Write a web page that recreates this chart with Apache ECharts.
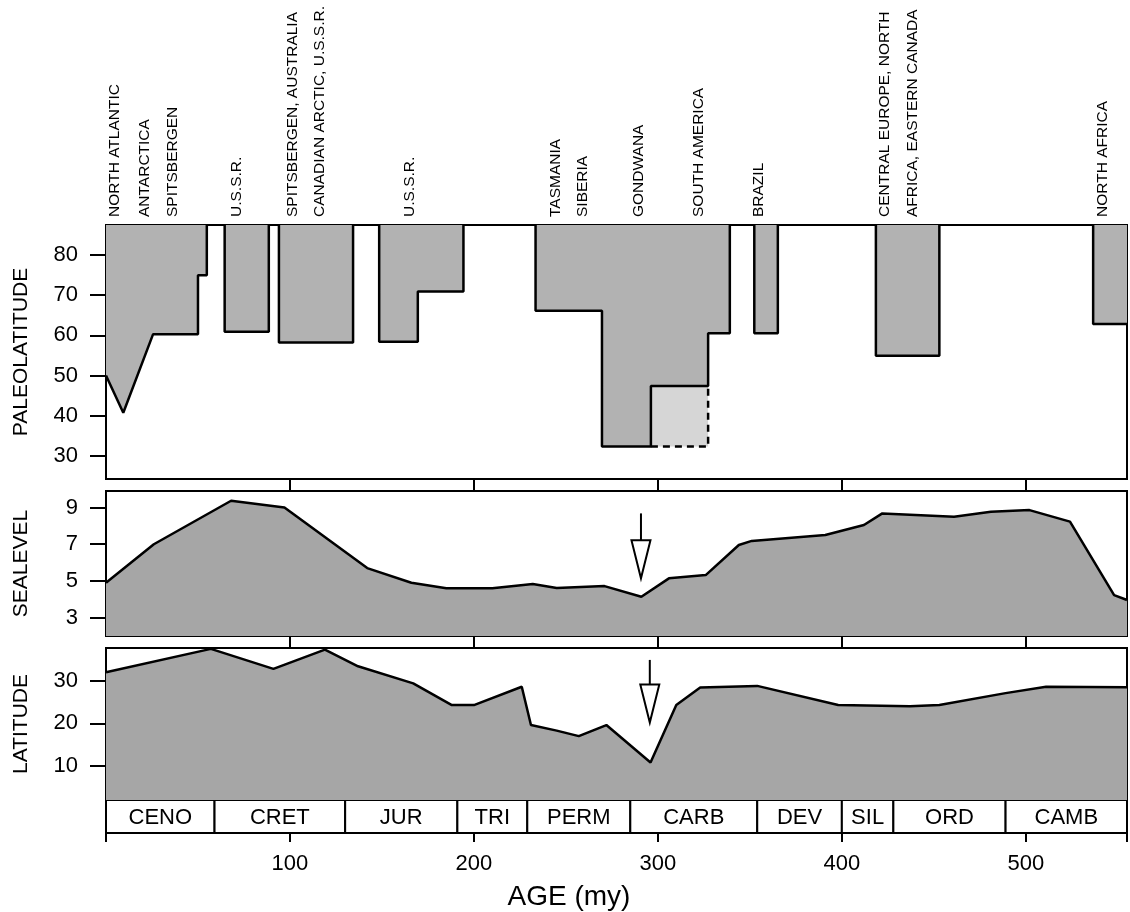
<!DOCTYPE html>
<html>
<head>
<meta charset="utf-8">
<title>Paleolatitude of glacial deposits, sea level and latitude vs age</title>
<script src="https://cdn.jsdelivr.net/npm/echarts@6/dist/echarts.min.js"></script>
<style>
  html, body { margin: 0; padding: 0; background: #fff; }
  #chart { width: 1130px; height: 912px; }
</style>
</head>
<body>
<div id="chart"></div>
<script>
const FONT = '"Liberation Sans", Arial, Helvetica, sans-serif';

// age axis (my)
const ageMin = 0;
const ageMax = 555;
const ageTicks = [100, 200, 300, 400, 500];

// top panel: paleolatitude of glacial deposits (each block drawn down from the panel top)
const paleoTop = 87.5;
const paleoTicks = [30, 40, 50, 60, 70, 80];
const blockCeno = [[0, 50], [9.4, 40.7], [25.6, 60.3], [50, 60.3], [50, 75], [54.8, 75], [54.8, paleoTop]];
const blockUssr1 = [[64.5, paleoTop], [64.5, 60.9], [88.5, 60.9], [88.5, paleoTop]];
const blockSpits = [[94, paleoTop], [94, 58.2], [134.3, 58.2], [134.3, paleoTop]];
const blockUssr2 = [[148.5, paleoTop], [148.5, 58.4], [169.5, 58.4], [169.5, 70.9], [194.3, 70.9], [194.3, paleoTop]];
const blockGondwana = [[233.5, paleoTop], [233.5, 66.1], [269.6, 66.1], [269.6, 32.3], [296.2, 32.3], [296.2, 47.4],
  [327.3, 47.4], [327.3, 60.5], [339.1, 60.5], [339.1, paleoTop]];
const blockBrazil = [[352.4, paleoTop], [352.4, 60.5], [365.2, 60.5], [365.2, paleoTop]];
const blockEurope = [[418.5, paleoTop], [418.5, 54.9], [453, 54.9], [453, paleoTop]];
const blockAfrica = [[536.6, paleoTop], [536.6, 62.8], [555, 62.8]];
// uncertain part (dashed outline)
const blockDashed = [[296.2, 32.3], [327.3, 32.3], [327.3, 47.4]];
const dashedTop = 47.4;

// site labels above the top panel
const siteAges = [4.9, 21.2, 36.3, 71, 101.5, 116.3, 165.2, 244.2, 258.9, 289.5, 322.2, 354.9, 423.4, 438.6, 541.6];
const siteNames = ['NORTH ATLANTIC', 'ANTARCTICA', 'SPITSBERGEN', 'U.S.S.R.', 'SPITSBERGEN, AUSTRALIA',
  'CANADIAN ARCTIC, U.S.S.R.', 'U.S.S.R.', 'TASMANIA', 'SIBERIA', 'GONDWANA', 'SOUTH AMERICA', 'BRAZIL',
  'CENTRAL EUROPE, NORTH', 'AFRICA, EASTERN CANADA', 'NORTH AFRICA'];

// middle panel: sea level
const seaTicks = [3, 5, 7, 9];
const seaAge = [0, 26, 68, 97, 142, 166, 185, 210, 232, 245, 271, 291, 306, 326, 344, 351, 391, 412, 422, 461, 481, 502, 524, 548, 555];
const seaVal = [4.9, 7.0, 9.37, 9.0, 5.7, 4.9, 4.6, 4.6, 4.83, 4.62, 4.72, 4.14, 5.14, 5.32, 6.96, 7.18, 7.5, 8.05, 8.68, 8.5, 8.77, 8.86, 8.23, 4.23, 3.96];
const seaArrow = [290.8, 8.68, 5.14];

// bottom panel: latitude
const latTicks = [10, 20, 30];
const latAge = [0, 57, 91, 119, 137, 167, 188, 200, 226, 231, 245, 257, 272, 296, 310, 323, 354, 398, 437, 453, 489, 511, 555];
const latVal = [32.0, 37.5, 32.8, 37.3, 33.4, 29.4, 24.3, 24.3, 28.6, 19.6, 18.3, 17.0, 19.6, 10.8, 24.3, 28.4, 28.8, 24.3, 24.0, 24.3, 27.1, 28.6, 28.5];
const latArrow = [295.6, 34.9, 20.2];

// geologic periods
const periodNames = ['CENO', 'CRET', 'JUR', 'TRI', 'PERM', 'CARB', 'DEV', 'SIL', 'ORD', 'CAMB'];
const periodStart = [0, 59, 130, 191, 229, 285, 354, 400, 428, 489];
const periodEnd = [59, 130, 191, 229, 285, 354, 400, 428, 489, 555];

const chart = echarts.init(document.getElementById('chart'), null, { renderer: 'canvas' });

const black = '#000';
const fillGrey = '#a6a6a6';
const fillPaleo = '#b2b2b2';

const border = { show: true, borderColor: black, borderWidth: 2, backgroundColor: 'transparent' };

function xAxisFor(gridIndex, position, tickLen, extra) {
  return Object.assign({
    type: 'value', gridIndex, position, min: ageMin, max: ageMax,
    axisLine: { show: false },
    axisTick: { show: true, inside: false, length: tickLen, customValues: ageTicks, lineStyle: { color: black, width: 2 } },
    axisLabel: { show: false },
    splitLine: { show: false }
  }, extra || {});
}

function yAxisFor(gridIndex, min, max, ticks, name) {
  return {
    type: 'value', gridIndex, min, max,
    name, nameLocation: 'middle', nameGap: 74, nameRotate: 90,
    nameTextStyle: { fontFamily: FONT, fontSize: 21, color: black },
    axisLine: { show: true, lineStyle: { color: black, width: 2 } },
    axisTick: { show: true, length: 16, customValues: ticks, lineStyle: { color: black, width: 2 } },
    axisLabel: { show: true, customValues: ticks, margin: 28, fontFamily: FONT, fontSize: 22, color: black },
    splitLine: { show: false }
  };
}

function blockSeries(points) {
  return {
    type: 'line', xAxisIndex: 0, yAxisIndex: 0, data: points,
    symbol: 'none', silent: true, clip: false,
    lineStyle: { color: black, width: 2.5 },
    areaStyle: { color: fillPaleo, opacity: 1, origin: 'end' }
  };
}

function arrowSeries(xIdx, yIdx, arrow) {
  return {
    type: 'custom', xAxisIndex: xIdx, yAxisIndex: yIdx, silent: true,
    data: [arrow], encode: { x: 0, y: [1, 2] },
    renderItem: (params, api) => {
      const top = api.coord([api.value(0), api.value(1)]);
      const tip = api.coord([api.value(0), api.value(2)]);
      const headLen = 38;
      const halfW = 9.5;
      const base = tip[1] - headLen;
      return {
        type: 'group',
        children: [
          { type: 'line', shape: { x1: top[0], y1: top[1], x2: top[0], y2: base }, style: { stroke: black, lineWidth: 2 } },
          { type: 'polygon', shape: { points: [[tip[0] - halfW, base], [tip[0] + halfW, base], [tip[0], tip[1]]] },
            style: { fill: '#fff', stroke: black, lineWidth: 2 } }
        ]
      };
    }
  };
}

const option = {
  animation: false,
  backgroundColor: '#fff',
  title: {
    text: 'AGE (my)', left: 564, top: 878, textAlign: 'center',
    textStyle: { fontFamily: FONT, fontSize: 28, fontWeight: 'normal', color: black }
  },
  grid: [
    Object.assign({ left: 106, width: 1021, top: 225, height: 254 }, border),
    Object.assign({ left: 106, width: 1021, top: 491, height: 145 }, border),
    Object.assign({ left: 106, width: 1021, top: 648, height: 152 }, border),
    Object.assign({ left: 106, width: 1021, top: 800, height: 33 }, border)
  ],
  xAxis: [
    xAxisFor(0, 'bottom', 6),
    xAxisFor(0, 'top', 0, {
      axisTick: { show: false },
      axisLabel: {
        show: true, customValues: siteAges, rotate: -90, margin: 8,
        fontFamily: FONT, fontSize: 15.5, color: black,
        formatter: (v) => siteNames[siteAges.indexOf(v)] || ''
      }
    }),
    xAxisFor(1, 'top', 6),
    xAxisFor(1, 'bottom', 6),
    xAxisFor(2, 'top', 6),
    xAxisFor(3, 'bottom', 9, {
      axisTick: { show: true, length: 9, customValues: [ageMin].concat(ageTicks, [ageMax]), lineStyle: { color: black, width: 2 } },
      axisLabel: { show: true, customValues: ageTicks, margin: 20, fontFamily: FONT, fontSize: 22, color: black }
    })
  ],
  yAxis: [
    yAxisFor(0, 24.2, paleoTop, paleoTicks, 'PALEOLATITUDE'),
    yAxisFor(1, 2, 9.9, seaTicks, 'SEALEVEL'),
    yAxisFor(2, 2, 37.7, latTicks, 'LATITUDE'),
    { type: 'value', gridIndex: 3, min: 0, max: 1, show: false }
  ],
  series: [
    {
      type: 'line', xAxisIndex: 0, yAxisIndex: 0, data: blockDashed,
      symbol: 'none', silent: true,
      lineStyle: { color: black, width: 2.5, type: [7, 5] },
      areaStyle: { color: '#d6d6d6', opacity: 1, origin: dashedTop }
    },
    blockSeries(blockCeno),
    blockSeries(blockUssr1),
    blockSeries(blockSpits),
    blockSeries(blockUssr2),
    blockSeries(blockGondwana),
    blockSeries(blockBrazil),
    blockSeries(blockEurope),
    blockSeries(blockAfrica),
    {
      type: 'line', xAxisIndex: 3, yAxisIndex: 1,
      data: seaAge.map((a, i) => [a, seaVal[i]]),
      symbol: 'none', silent: true,
      lineStyle: { color: black, width: 2.5 },
      areaStyle: { color: fillGrey, opacity: 1, origin: 'start' }
    },
    arrowSeries(3, 1, seaArrow),
    {
      type: 'line', xAxisIndex: 4, yAxisIndex: 2,
      data: latAge.map((a, i) => [a, latVal[i]]),
      symbol: 'none', silent: true,
      lineStyle: { color: black, width: 2.5 },
      areaStyle: { color: fillGrey, opacity: 1, origin: 'start' }
    },
    arrowSeries(4, 2, latArrow),
    {
      type: 'custom', xAxisIndex: 5, yAxisIndex: 3, silent: true,
      data: periodStart.map((s, i) => [s, periodEnd[i]]),
      encode: { x: [0, 1] },
      renderItem: (params, api) => {
        const p0 = api.coord([api.value(0), 1]);
        const p1 = api.coord([api.value(1), 0]);
        return {
          type: 'group',
          children: [
            { type: 'rect', shape: { x: p0[0], y: p0[1], width: p1[0] - p0[0], height: p1[1] - p0[1] },
              style: { fill: '#fff', stroke: black, lineWidth: 2 } },
            { type: 'text', style: { text: periodNames[params.dataIndex], x: (p0[0] + p1[0]) / 2, y: (p0[1] + p1[1]) / 2 + 1,
              align: 'center', verticalAlign: 'middle', fontFamily: FONT, fontSize: 22, fill: black } }
          ]
        };
      }
    }
  ]
};

chart.setOption(option);
</script>
</body>
</html>
